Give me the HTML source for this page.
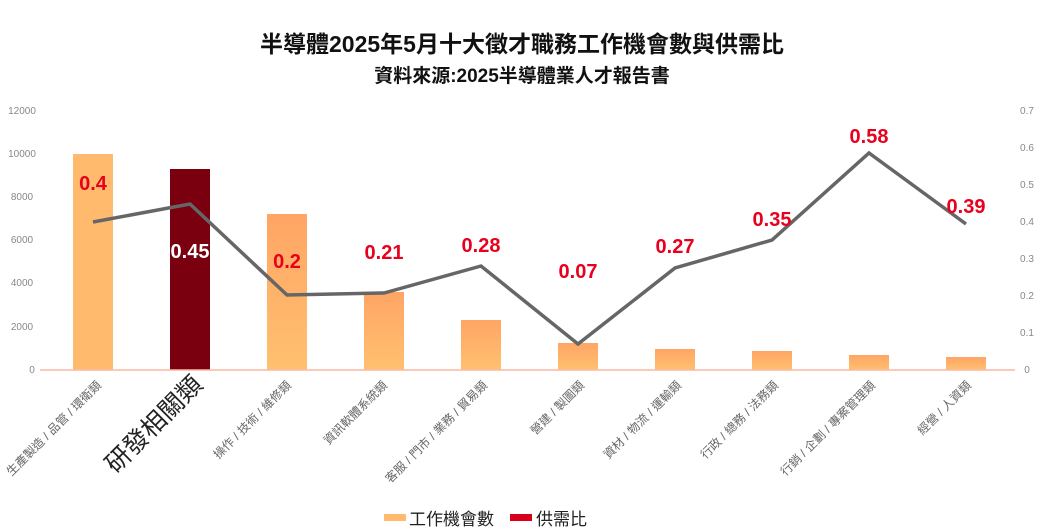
<!DOCTYPE html>
<html><head><meta charset="utf-8"><style>
body{margin:0;background:#fff;}
svg{display:block;font-family:"Liberation Sans","Noto Sans CJK TC",sans-serif;}
</style></head><body>
<svg width="1044" height="531" viewBox="0 0 1044 531">
<defs>
<linearGradient id="g" x1="0" y1="0" x2="0" y2="1">
<stop offset="0" stop-color="#FFA565"/><stop offset="1" stop-color="#FFC06F"/>
</linearGradient>
</defs>
<text x="522" y="52" text-anchor="middle" font-size="23" font-weight="bold" fill="#111">半導體2025年5月十大徵才職務工作機會數與供需比</text>
<text x="522" y="82" text-anchor="middle" font-size="19" font-weight="bold" fill="#111">資料來源:2025半導體業人才報告書</text>
<g font-size="10" fill="#888" text-anchor="middle">
<text x="22" y="114">12000</text><text x="22" y="157">10000</text><text x="22" y="200">8000</text><text x="22" y="243">6000</text><text x="22" y="286">4000</text><text x="22" y="330">2000</text><text x="32" y="373">0</text>
<text x="1027" y="114">0.7</text><text x="1027" y="151">0.6</text><text x="1027" y="188">0.5</text><text x="1027" y="225">0.4</text><text x="1027" y="262">0.3</text><text x="1027" y="299">0.2</text><text x="1027" y="336">0.1</text><text x="1027" y="373">0</text>
</g>
<g fill="url(#g)">
<rect x="73" y="154" width="40" height="216" fill="#FFBA6E"/>
<rect x="170" y="169" width="40" height="201" fill="#7A0010"/>
<rect x="267" y="214" width="40" height="156"/>
<rect x="364" y="292" width="40" height="78"/>
<rect x="461" y="320" width="40" height="50"/>
<rect x="558" y="343" width="40" height="27"/>
<rect x="655" y="349" width="40" height="21"/>
<rect x="752" y="351" width="40" height="19"/>
<rect x="849" y="355" width="40" height="15"/>
<rect x="946" y="357" width="40" height="13"/>
</g>
<line x1="40" y1="370" x2="1015" y2="370" stroke="#FBB9A0" stroke-width="1.5"/>
<polyline points="93,222 190,204 287,295 384,293 481,266 578,344 675,268 772,240 869,153 966,224" fill="none" stroke="#666" stroke-width="3.5"/>
<g font-size="20" font-weight="bold" fill="#E8001C" text-anchor="middle">
<text x="93" y="190">0.4</text><text x="190" y="258" fill="#fff">0.45</text><text x="287" y="268">0.2</text><text x="384" y="259">0.21</text><text x="481" y="252">0.28</text><text x="578" y="278">0.07</text><text x="675" y="253">0.27</text><text x="772" y="226">0.35</text><text x="869" y="143">0.58</text><text x="966" y="213">0.39</text>
</g>
<g font-size="12" fill="#666" text-anchor="end">
<text transform="translate(102,386) rotate(-45)">生產製造 / 品管 / 環衛類</text>
<text transform="translate(204,386) rotate(-45)" font-size="25" fill="#222">研發相關類</text>
<text transform="translate(292,386) rotate(-45)">操作 / 技術 / 維修類</text>
<text transform="translate(388,386) rotate(-45)">資訊軟體系統類</text>
<text transform="translate(488,386) rotate(-45)">客服 / 門市 / 業務 / 貿易類</text>
<text transform="translate(585,386) rotate(-45)">營建 / 製圖類</text>
<text transform="translate(682,386) rotate(-45)">資材 / 物流 / 運輸類</text>
<text transform="translate(779,386) rotate(-45)">行政 / 總務 / 法務類</text>
<text transform="translate(876,386) rotate(-45)">行銷 / 企劃 / 專案管理類</text>
<text transform="translate(972,386) rotate(-45)">經營 / 人資類</text>
</g>
<rect x="384" y="514" width="22" height="7" fill="#FFBA6E"/>
<text x="409" y="525" font-size="17" fill="#222">工作機會數</text>
<rect x="510" y="514" width="22" height="7" fill="#D9001B"/>
<text x="536" y="525" font-size="17" fill="#222">供需比</text>
</svg>
</body></html>
